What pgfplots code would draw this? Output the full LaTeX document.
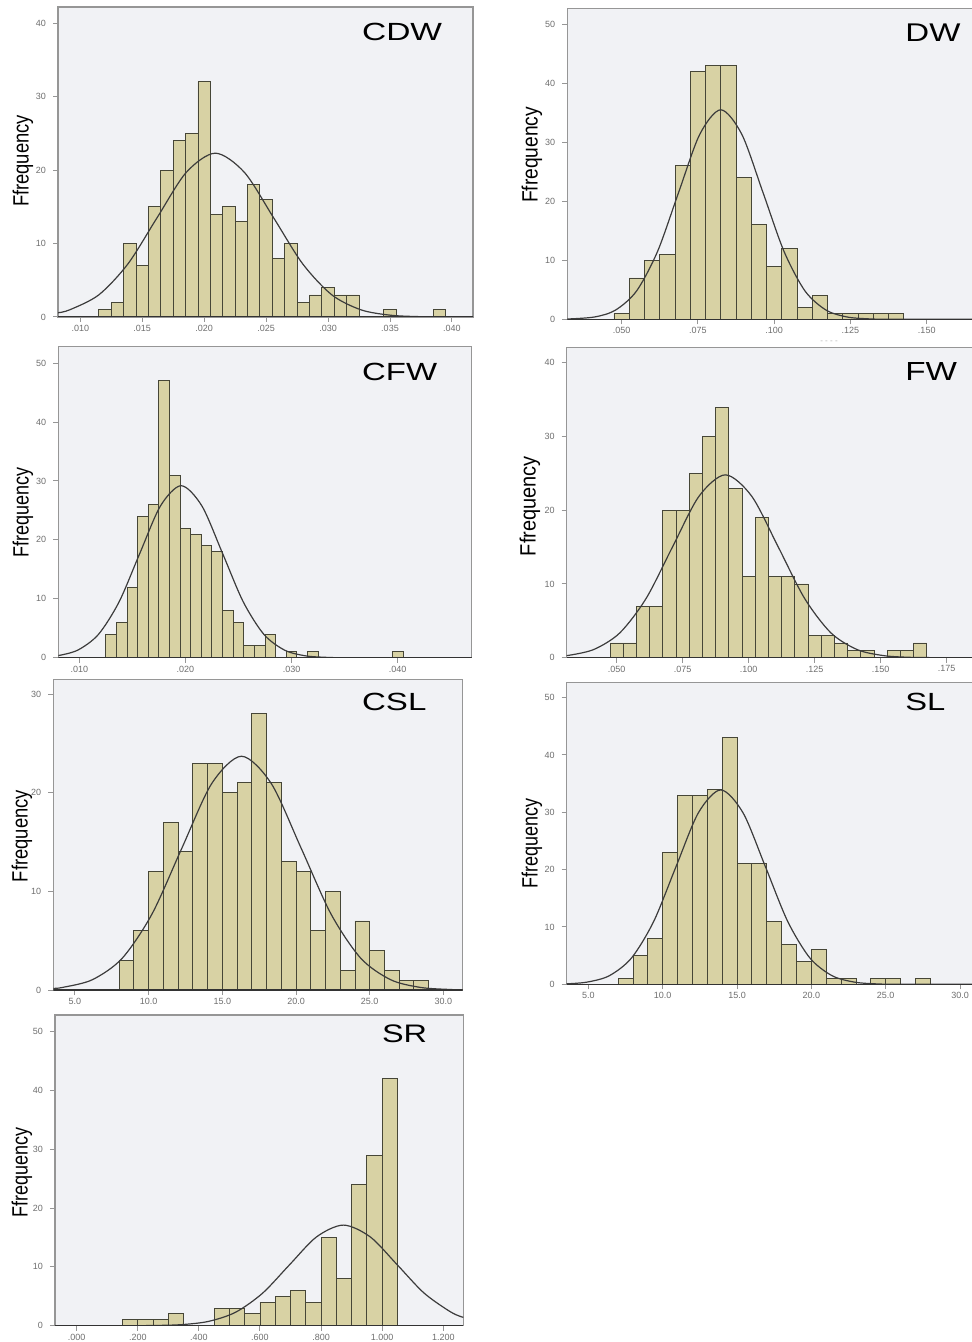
\documentclass[border=0pt]{standalone}
\usepackage{pgfplots}
\pgfplotsset{compat=1.18}
\usepackage{fontspec}
\setmainfont{Liberation Sans}
\definecolor{bgc}{RGB}{241,242,245}
\definecolor{barc}{RGB}{216,210,164}
\definecolor{edgec}{RGB}{70,70,55}
\definecolor{framec}{RGB}{150,150,150}
\definecolor{tickc}{RGB}{110,110,110}
\definecolor{curvec}{RGB}{60,60,60}
\newcommand{\px}{0.5pt}
\pgfplotsset{
  hist/.style={
    scale only axis,
    anchor=south west,
    axis background/.style={fill=bgc},
    axis line style={framec, line width=0.7pt},
    ymin=0,
    tick align=outside,
    xtick pos=left, ytick pos=left,
    major tick length=2.5pt,
    tick style={framec, line width=0.5pt},
    ticklabel style={font=\fontsize{4.5}{5}\selectfont, text=tickc},
    xticklabel style={yshift=2pt},
    scaled x ticks=false, scaled y ticks=false,
    /pgf/number format/assume math mode=true,
    ytick distance=10,
    clip=true,
  },
  bars/.style={ybar interval, fill=barc, draw=edgec, line width=0.45pt},
  curve/.style={smooth, no marks, curvec, line width=0.6pt},
}
\newcommand{\bottomline}{\draw[black!80, line width=0.7pt] (rel axis cs:0,0) -- (rel axis cs:1,0);}
\begin{document}
\begin{tikzpicture}
\useasboundingbox (0,0) rectangle (971*\px,-1342*\px);
% ---------------- CDW ----------------
\begin{axis}[hist, at={(58*\px,-317*\px)}, width=207.5pt, height=155pt,
  xmin=0.0082, xmax=0.0417, ymax=42.2,
  xtick={0.010,0.015,0.020,0.025,0.030,0.035,0.040},
  xticklabels={.010,.015,.020,.025,.030,.035,.040}]
\addplot[bars] coordinates {(0.0115,1) (0.0125,2) (0.0135,10) (0.0145,7) (0.0155,15) (0.0165,20) (0.0175,24) (0.0185,25) (0.0195,32) (0.0205,14) (0.0215,15) (0.0225,13) (0.0235,18) (0.0245,16) (0.0255,8) (0.0265,10) (0.0275,2) (0.0285,3) (0.0295,4) (0.0305,3) (0.0315,3) (0.0325,0) (0.0345,1) (0.0355,0) (0.0385,1) (0.0395,0)};
\addplot[curve] coordinates {(0.0082,0.58) (0.00915,0.98) (0.0115,3.02) (0.01385,7.24) (0.0162,13.52) (0.01855,19.68) (0.0209,22.3) (0.02325,19.68) (0.0256,13.52) (0.02795,7.24) (0.0303,3.02) (0.03265,0.98) (0.035,0.25) (0.03735,0.05) (0.0397,0.01) (0.0417,0)};
\bottomline
\end{axis}
% ---------------- DW ----------------
\begin{axis}[hist, at={(567.3*\px,-319.3*\px)}, width=205.35pt, height=155.5pt,
  xmin=0.0322, xmax=0.1668, ymax=52.7,
  xtick={0.050,0.075,0.100,0.125,0.150},
  xticklabels={.050,.075,.100,.125,.150}]
\addplot[bars] coordinates {(0.0475,1) (0.0525,7) (0.0575,10) (0.0625,11) (0.0675,26) (0.0725,42) (0.0775,43) (0.0825,43) (0.0875,24) (0.0925,16) (0.0975,9) (0.1025,12) (0.1075,2) (0.1125,4) (0.1175,1) (0.1225,1) (0.1275,1) (0.1325,1) (0.1375,1) (0.1425,0)};
\addplot[curve] coordinates {(0.0322,0.05) (0.0411,0.39) (0.048,1.56) (0.0549,4.80) (0.0618,11.53) (0.0687,21.53) (0.0756,31.33) (0.0825,35.5) (0.0894,31.33) (0.0963,21.53) (0.1032,11.53) (0.1101,4.80) (0.117,1.56) (0.1239,0.39) (0.1308,0.08) (0.1377,0.01) (0.1668,0)};
\bottomline
\end{axis}
% ---------------- CFW ----------------
\begin{axis}[hist, at={(58.3*\px,-657.7*\px)}, width=206.7pt, height=155.5pt,
  xmin=0.00802, xmax=0.04698, ymax=52.8,
  xtick={0.010,0.020,0.030,0.040},
  xticklabels={.010,.020,.030,.040}]
\addplot[bars] coordinates {(0.0125,4) (0.0135,6) (0.0145,12) (0.0155,24) (0.0165,26) (0.0175,47) (0.0185,31) (0.0195,22) (0.0205,21) (0.0215,19) (0.0225,18) (0.0235,8) (0.0245,6) (0.0255,2) (0.0265,2) (0.0275,4) (0.0285,0) (0.0295,1) (0.0305,0) (0.0315,1) (0.0325,0) (0.0395,1) (0.0405,0)};
\addplot[curve] coordinates {(0.00802,0.36) (0.00985,1.28) (0.0118,3.95) (0.01375,9.48) (0.0157,17.71) (0.01765,25.77) (0.0196,29.2) (0.02155,25.77) (0.0235,17.71) (0.02545,9.48) (0.0274,3.95) (0.02935,1.28) (0.0313,0.32) (0.03325,0.06) (0.0352,0.01) (0.04698,0)};
\bottomline
\end{axis}
% ---------------- FW ----------------
\begin{axis}[hist, at={(566.7*\px,-657.7*\px)}, width=205.65pt, height=155.2pt,
  xmin=0.0311, xmax=0.1869, ymax=42.1,
  xtick={0.050,0.075,0.100,0.125,0.150,0.175},
  xticklabels={.050,.075,.100,.125,.150,.175}]
\addplot[bars] coordinates {(0.0475,2) (0.0525,2) (0.0575,7) (0.0625,7) (0.0675,20) (0.0725,20) (0.0775,25) (0.0825,30) (0.0875,34) (0.0925,23) (0.0975,11) (0.1025,19) (0.1075,11) (0.1125,11) (0.1175,10) (0.1225,3) (0.1275,3) (0.1325,2) (0.1375,1) (0.1425,1) (0.1475,0) (0.1525,1) (0.1575,1) (0.1625,2) (0.1675,0)};
\addplot[curve] coordinates {(0.0311,0.28) (0.0412,1.09) (0.0512,3.36) (0.0612,8.05) (0.0712,15.04) (0.0812,21.89) (0.0912,24.8) (0.1012,21.89) (0.1112,15.04) (0.1212,8.05) (0.1312,3.36) (0.1412,1.09) (0.1512,0.28) (0.1612,0.05) (0.1712,0.01) (0.1869,0)};
\bottomline
\end{axis}
% ---------------- CSL ----------------
\begin{axis}[hist, at={(53.3*\px,-990*\px)}, width=204.7pt, height=155.35pt,
  xmin=3.53, xmax=31.31, ymax=31.5,
  xtick={5,10,15,20,25,30},
  xticklabels={5.0,10.0,15.0,20.0,25.0,30.0}]
\addplot[bars] coordinates {(8,3) (9,6) (10,12) (11,17) (12,14) (13,23) (14,23) (15,20) (16,21) (17,28) (18,21) (19,13) (20,12) (21,6) (22,10) (23,2) (24,7) (25,4) (26,2) (27,1) (28,1) (29,0)};
\addplot[curve] coordinates {(3.53,0.17) (4.15,0.26) (6.175,1.04) (8.2,3.21) (10.225,7.70) (12.25,14.37) (14.275,20.92) (16.3,23.7) (18.325,20.92) (20.35,14.37) (22.375,7.70) (24.4,3.21) (26.425,1.04) (28.45,0.26) (30.475,0.05) (31.31,0.02)};
\bottomline
\end{axis}
% ---------------- SL ----------------
\begin{axis}[hist, at={(566.7*\px,-984.3*\px)}, width=205.65pt, height=150.8pt,
  xmin=3.54, xmax=31.21, ymax=52.6,
  xtick={5,10,15,20,25,30},
  xticklabels={5.0,10.0,15.0,20.0,25.0,30.0}]
\addplot[bars] coordinates {(7,1) (8,5) (9,8) (10,23) (11,33) (12,33) (13,34) (14,43) (15,21) (16,21) (17,11) (18,7) (19,4) (20,6) (21,1) (22,1) (23,0) (24,1) (25,1) (26,0) (27,1) (28,0)};
\addplot[curve] coordinates {(3.54,0.09) (4.9,0.38) (6.4,1.49) (7.9,4.59) (9.4,11.01) (10.9,20.56) (12.4,29.92) (13.9,33.9) (15.4,29.92) (16.9,20.56) (18.4,11.01) (19.9,4.59) (21.4,1.49) (22.9,0.38) (24.4,0.07) (25.9,0.01) (31.21,0)};
\bottomline
\end{axis}
% ---------------- SR ----------------
\begin{axis}[hist, at={(55*\px,-1325.7*\px)}, width=204.15pt, height=155.35pt,
  xmin=-0.0709, xmax=1.2655, ymax=52.8,
  xtick={0,0.2,0.4,0.6,0.8,1.0,1.2},
  xticklabels={.000,.200,.400,.600,.800,{1.000},{1.200}}]
\addplot[bars] coordinates {(0.15,1) (0.20,1) (0.25,1) (0.30,2) (0.35,0) (0.45,3) (0.50,3) (0.55,2) (0.60,4) (0.65,5) (0.70,6) (0.75,4) (0.80,15) (0.85,8) (0.90,24) (0.95,29) (1.00,42) (1.05,0)};
\addplot[curve] coordinates {(-0.0709,0) (0.169,0.01) (0.257,0.04) (0.345,0.19) (0.433,0.75) (0.521,2.31) (0.609,5.55) (0.697,10.37) (0.785,15.09) (0.873,17.1) (0.961,15.09) (1.049,10.37) (1.137,5.55) (1.225,2.31) (1.2655,1.42)};
\bottomline
\end{axis}
% ---------------- labels ----------------
\foreach \xx/\yy/\ll in {23/161/46, 532/155/48, 23/512/45, 530/506/50, 22/836/46, 532/843/45, 22/1172/45}{
  \node[rotate=90, inner sep=0] at (\xx*\px,-\yy*\px) {\resizebox{\ll pt}{8pt}{Ffrequency}};
}
\node[inner sep=0, text=black!30, font=\fontsize{4}{4}\selectfont] at (829*\px,-342*\px) {- - - -};
\node[anchor=base west, inner sep=0] at (361.7*\px,-40.7*\px) {\resizebox{40pt}{8.67pt}{CDW}};
\node[anchor=base west, inner sep=0] at (905*\px,-41.7*\px) {\resizebox{27.5pt}{8.8pt}{DW}};
\node[anchor=base west, inner sep=0] at (361.7*\px,-380.7*\px) {\resizebox{37.5pt}{8.67pt}{CFW}};
\node[anchor=base west, inner sep=0] at (905*\px,-380*\px) {\resizebox{25.85pt}{9pt}{FW}};
\node[anchor=base west, inner sep=0] at (361.7*\px,-710.7*\px) {\resizebox{32.15pt}{8.67pt}{CSL}};
\node[anchor=base west, inner sep=0] at (905*\px,-710.7*\px) {\resizebox{20pt}{8.67pt}{SL}};
\node[anchor=base west, inner sep=0] at (381.7*\px,-1042.7*\px) {\resizebox{22.5pt}{8.85pt}{SR}};
\end{tikzpicture}
\end{document}
